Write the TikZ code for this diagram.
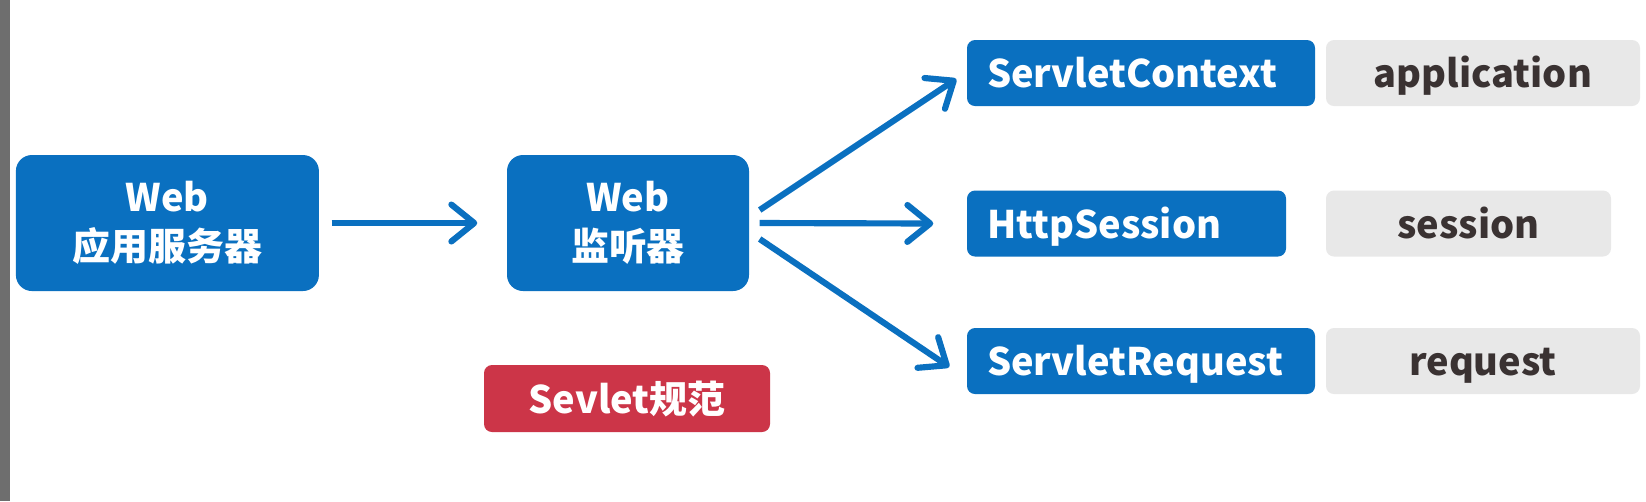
\documentclass[tikz,border=0pt]{standalone}
\usepackage{fontspec}
\setmainfont{Noto Sans CJK SC}
\usepackage{xcolor}
\usepackage{tikz}
\usetikzlibrary{positioning,arrows.meta,calc}

\definecolor{boxblue}{HTML}{0A70C0}
\definecolor{boxred}{HTML}{CC3548}
\definecolor{boxgray}{HTML}{E8E8E8}
\definecolor{txtgray}{HTML}{3A3232}
\definecolor{edgegray}{HTML}{6E6E6E}

\begin{document}
\begin{tikzpicture}[x=1cm,y=1cm,
    every node/.style={font=\fontsize{10.8}{14}\selectfont\bfseries},
    bluebox/.style={fill=boxblue,text=white,rounded corners=0.16cm,align=center},
    oneline/.style={text height=9.5pt,text depth=1pt,minimum height=0.66cm},
    apibox/.style={oneline,fill=boxblue,text=white,rounded corners=0.08cm,
      inner xsep=0.2cm,align=left},
    scopebox/.style={oneline,fill=boxgray,text=txtgray,rounded corners=0.08cm,align=center},
    flow/.style={-{Straight Barb[length=6.5pt,width=10.5pt,line cap=round,line join=round]},
      boxblue,line width=1.75pt}]
  \useasboundingbox (0,0) rectangle (16.46,-5.01);
  \fill[white] (0,0) rectangle (16.46,-5.01);
  \fill[edgegray] (0,0) rectangle (0.1,-5.01);
  % left part: server and listener
  \node[bluebox,minimum width=3.03cm,minimum height=1.36cm] (server) at (1.674,-2.23) {Web\\应用服务器};
  \node[bluebox,minimum width=2.42cm,minimum height=1.36cm] (listener) at (6.28,-2.23) {Web\\监听器};
  \node[oneline,fill=boxred,text=white,rounded corners=0.08cm,minimum width=2.86cm,minimum height=0.67cm]
    (spec) at (6.27,-3.985) {Sevlet规范};
  % right part: three listened objects and their scopes
  \node[apibox,text width=3.08cm] (context) at (11.41,-0.73) {ServletContext};
  \node[apibox,text width=2.79cm] (session) at (11.265,-2.235) {HttpSession};
  \node[apibox,text width=3.08cm] (request) at (11.41,-3.61) {ServletRequest};
  \node[scopebox,minimum width=3.14cm] (app) at (14.83,-0.73) {application};
  \node[scopebox,minimum width=2.85cm] (sess) at (14.685,-2.235) {session};
  \node[scopebox,minimum width=3.14cm] (req) at (14.83,-3.61) {request};
  % connectors
  \draw[flow] ([xshift=0.12cm]server.east) -- ([xshift=-0.29cm]listener.west);
  \draw[flow] ([shift={(0.1,0.13)}]listener.east) -- ([shift={(-0.1,-0.06)}]context.west);
  \draw[flow] ([xshift=0.1cm]listener.east) -- ([xshift=-0.33cm]session.west);
  \draw[flow] ([shift={(0.1,-0.16)}]listener.east) -- ([shift={(-0.17,-0.06)}]request.west);
\end{tikzpicture}
\end{document}
